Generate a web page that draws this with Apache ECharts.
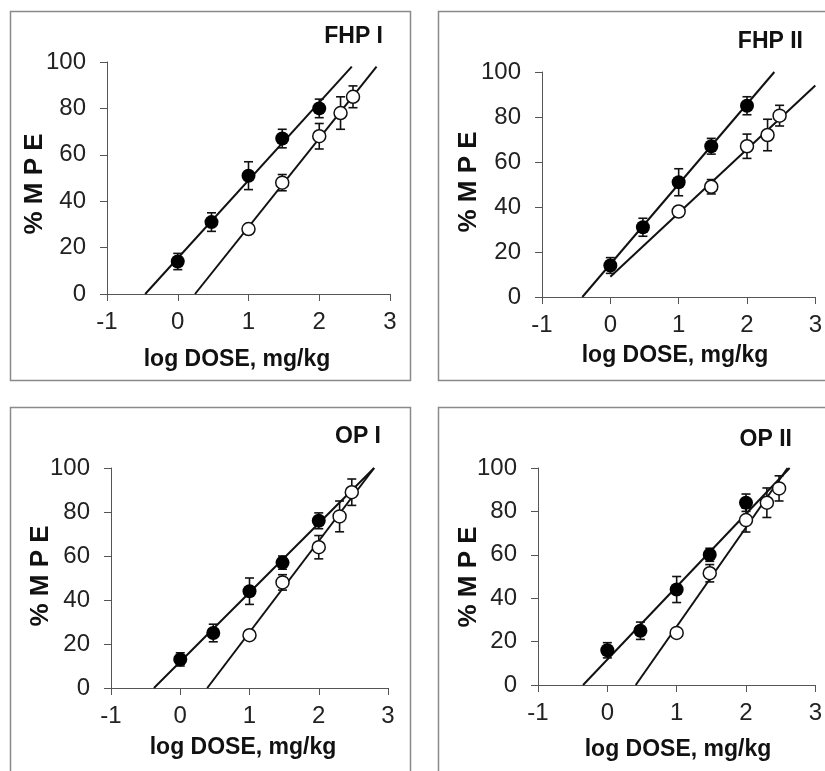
<!DOCTYPE html>
<html>
<head>
<meta charset="utf-8">
<script src="https://cdn.jsdelivr.net/npm/echarts@6/dist/echarts.min.js"></script>
<style>
  html, body { margin: 0; padding: 0; background: #fff; }
  #chart { width: 825px; height: 771px; }
</style>
</head>
<body>
<div id="chart"></div>
<script>
// ---------- data ----------
const panelNames = ['FHP I', 'FHP II', 'OP I', 'OP II'];
const xAxisTicks = [-1, 0, 1, 2, 3];
const yAxisTicks = [0, 20, 40, 60, 80, 100];
const xTitle = 'log DOSE, mg/kg';
const yTitle = '% M P E';

const xFilled = [0, 0.477, 1, 1.477, 2];
const xOpen = [1, 1.477, 2, 2.301, 2.477];

// FHP I
const fhp1FilledY = [14, 31, 51, 67, 80];
const fhp1FilledErr = [3.5, 4, 6, 4, 4];
const fhp1OpenY = [28, 48, 68, 78, 85];
const fhp1OpenErr = [0, 3.5, 5.5, 7, 4.7];
const fhp1FilledFit = [[-0.46, 0], [2.46, 98]];
const fhp1OpenFit = [[0.244, 0], [2.81, 98]];

// FHP II
const fhp2FilledY = [14, 31, 51, 67, 85];
const fhp2FilledErr = [3.5, 4, 6, 3.5, 4];
const fhp2OpenY = [38, 49, 67, 72, 80.6];
const fhp2OpenErr = [0, 3.2, 5.4, 7, 4.6];
const fhp2FilledFit = [[-0.41, 0], [2.40, 100]];
const fhp2OpenFit = [[0, 9], [3, 94]];

// OP I
const op1FilledY = [13, 25, 44, 57, 76];
const op1FilledErr = [3, 4, 6, 3, 3.6];
const op1OpenY = [24, 48, 64, 78, 89];
const op1OpenErr = [0, 3.5, 5.3, 7, 6];
const op1FilledFit = [[-0.38, 0], [2.80, 100]];
const op1OpenFit = [[0.39, 0], [2.80, 100]];

// OP II
const op2FilledY = [16, 25, 44, 60, 84];
const op2FilledErr = [3.5, 4, 6, 3, 4];
const op2OpenY = [24, 51.5, 76, 84, 90.6];
const op2OpenErr = [0, 4, 5.5, 6.8, 5.8];
const op2FilledFit = [[-0.35, 0], [2.63, 100]];
const op2OpenFit = [[0.41, 0], [2.60, 100]];

const panelData = [
  { fy: fhp1FilledY, fe: fhp1FilledErr, oy: fhp1OpenY, oe: fhp1OpenErr, ff: fhp1FilledFit, of: fhp1OpenFit },
  { fy: fhp2FilledY, fe: fhp2FilledErr, oy: fhp2OpenY, oe: fhp2OpenErr, ff: fhp2FilledFit, of: fhp2OpenFit },
  { fy: op1FilledY, fe: op1FilledErr, oy: op1OpenY, oe: op1OpenErr, ff: op1FilledFit, of: op1OpenFit },
  { fy: op2FilledY, fe: op2FilledErr, oy: op2OpenY, oe: op2OpenErr, ff: op2FilledFit, of: op2OpenFit }
];

// ---------- layout ----------
const layout = [
  { grid: [107, 62, 283, 232], box: [10, 11, 400, 369], title: [383, 37], xName: [237, 360], yName: [35, 184] },
  { grid: [542, 72, 274, 225], box: [438, 11, 400, 369], title: [803, 42], xName: [675, 356], yName: [469, 182] },
  { grid: [111, 468, 277, 220], box: [10, 407, 400, 400], title: [381, 437], xName: [243, 748], yName: [41, 576] },
  { grid: [538, 468, 278, 217], box: [438, 407, 400, 400], title: [792, 440], xName: [678, 750], yName: [469, 577] }
];

const FONT = "'Liberation Sans', Arial, Helvetica, sans-serif";
const AXIS_COLOR = '#555';

const grids = [], xAxes = [], yAxes = [], series = [], graphics = [];

function errorBarSeries(idx, xs, ys, es) {
  return {
    type: 'custom',
    xAxisIndex: idx, yAxisIndex: idx,
    z: 2,
    silent: true,
    data: xs.map((x, i) => [x, ys[i], es[i]]),
    renderItem: function (params, api) {
      const x = api.value(0), y = api.value(1), e = api.value(2);
      if (!e) return null;
      const top = api.coord([x, y + e]);
      const bot = api.coord([x, y - e]);
      const hw = 4.5;
      const st = { stroke: '#111', lineWidth: 1.6 };
      return {
        type: 'group',
        children: [
          { type: 'line', shape: { x1: top[0], y1: top[1], x2: bot[0], y2: bot[1] }, style: st },
          { type: 'line', shape: { x1: top[0] - hw, y1: top[1], x2: top[0] + hw, y2: top[1] }, style: st },
          { type: 'line', shape: { x1: bot[0] - hw, y1: bot[1], x2: bot[0] + hw, y2: bot[1] }, style: st }
        ]
      };
    }
  };
}

layout.forEach((L, i) => {
  const [gl, gt, gw, gh] = L.grid;
  grids.push({ left: gl, top: gt, width: gw, height: gh, containLabel: false });
  xAxes.push({
    gridIndex: i, type: 'value',
    min: xAxisTicks[0], max: xAxisTicks[xAxisTicks.length - 1], interval: 1,
    axisLine: { show: true, onZero: false, lineStyle: { color: AXIS_COLOR, width: 1 } },
    axisTick: { show: true, length: 7, inside: false, lineStyle: { color: AXIS_COLOR, width: 1 } },
    splitLine: { show: false },
    axisLabel: { fontFamily: FONT, fontSize: 24, color: '#222', margin: 16, showMinLabel: true, showMaxLabel: true }
  });
  yAxes.push({
    gridIndex: i, type: 'value',
    min: yAxisTicks[0], max: yAxisTicks[yAxisTicks.length - 1], interval: 20,
    axisLine: { show: true, onZero: false, lineStyle: { color: AXIS_COLOR, width: 1 } },
    axisTick: { show: true, length: 7, inside: false, lineStyle: { color: AXIS_COLOR, width: 1 } },
    splitLine: { show: false },
    axisLabel: { fontFamily: FONT, fontSize: 24, color: '#222', margin: 21 }
  });

  const d = panelData[i];
  series.push(errorBarSeries(i, xFilled, d.fy, d.fe));
  series.push(errorBarSeries(i, xOpen, d.oy, d.oe));
  series.push({
    type: 'line', xAxisIndex: i, yAxisIndex: i, data: d.ff, z: 3,
    showSymbol: false, symbol: 'none', silent: true,
    lineStyle: { color: '#111', width: 2 }
  });
  series.push({
    type: 'line', xAxisIndex: i, yAxisIndex: i, data: d.of, z: 3,
    showSymbol: false, symbol: 'none', silent: true,
    lineStyle: { color: '#111', width: 2 }
  });
  series.push({
    type: 'scatter', xAxisIndex: i, yAxisIndex: i, z: 5,
    data: xOpen.map((x, k) => [x, d.oy[k]]),
    symbol: 'circle', symbolSize: 13,
    itemStyle: { color: '#fff', borderColor: '#111', borderWidth: 1.5, opacity: 1 }
  });
  series.push({
    type: 'scatter', xAxisIndex: i, yAxisIndex: i, z: 6,
    data: xFilled.map((x, k) => [x, d.fy[k]]),
    symbol: 'circle', symbolSize: 14,
    itemStyle: { color: '#000', borderColor: '#000', borderWidth: 0, opacity: 1 }
  });

  const [bx, by, bw, bh] = L.box;
  graphics.push({
    type: 'rect', shape: { x: bx + 0.5, y: by + 0.5, width: bw, height: bh },
    style: { fill: 'none', stroke: '#8a8a8a', lineWidth: 1.5 }, silent: true, z: 0
  });
  graphics.push({
    type: 'text', x: L.title[0], y: L.title[1], silent: true,
    style: { text: panelNames[i], font: 'bold 23px ' + FONT, fill: '#111', textAlign: 'right', textVerticalAlign: 'middle' }
  });
  graphics.push({
    type: 'text', x: L.xName[0], y: L.xName[1], silent: true,
    style: { text: xTitle, font: 'bold 23px ' + FONT, fill: '#111', textAlign: 'center', textVerticalAlign: 'middle' }
  });
  graphics.push({
    type: 'text', x: L.yName[0], y: L.yName[1], rotation: Math.PI / 2, silent: true,
    style: { text: yTitle, font: 'bold 26px ' + FONT, fill: '#111', textAlign: 'center', textVerticalAlign: 'middle' }
  });
});

const chart = echarts.init(document.getElementById('chart'), null, { renderer: 'canvas' });
chart.setOption({
  backgroundColor: '#fff',
  animation: false,
  grid: grids,
  xAxis: xAxes,
  yAxis: yAxes,
  series: series,
  graphic: graphics
});
</script>
</body>
</html>
